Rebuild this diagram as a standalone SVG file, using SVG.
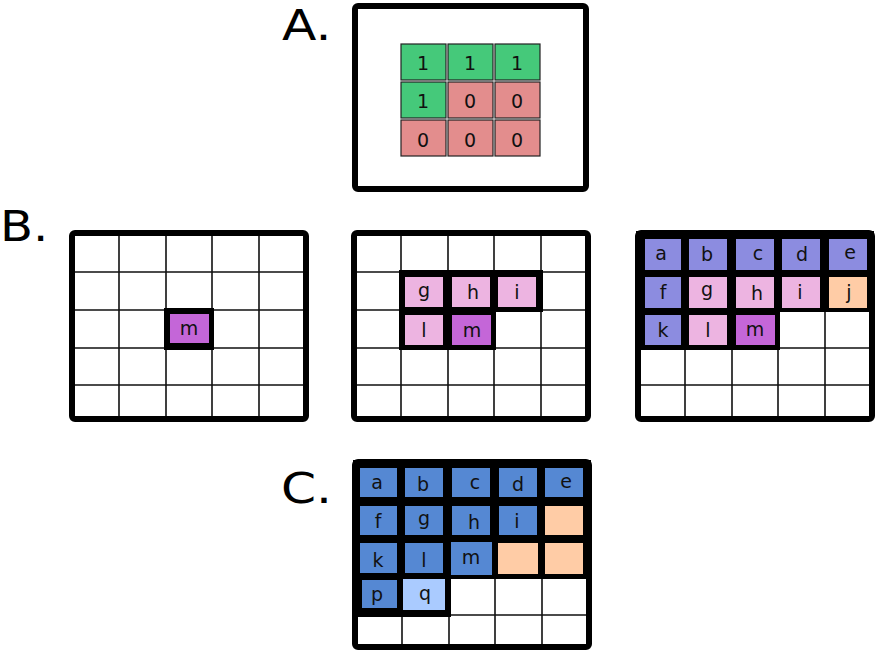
<svg xmlns="http://www.w3.org/2000/svg" width="875" height="652" viewBox="0 0 875 652">
<style>
.bg{fill:#fff}
.frame{fill:none;stroke:#000;stroke-width:6}
.grid{stroke:#111;stroke-width:1.6;fill:none}
.blk{fill:#000;stroke:#000;stroke-width:4;stroke-linejoin:miter}
.t{font-family:"DejaVu Sans","Liberation Sans",sans-serif;font-size:19px;text-anchor:middle;fill:#111}
.lbl{font-family:"DejaVu Sans","Liberation Sans",sans-serif;font-size:43px;fill:#000}
.gr{fill:#45c97a;stroke:#222;stroke-width:1.2}
.rd{fill:#e38d8d;stroke:#222;stroke-width:1.2}
.pu{fill:#c466d8}
.pk{fill:#edb4e1}
.bp{fill:#8c8ce0}
.pe{fill:#ffcca6}
.bl{fill:#5588d3}
.lb{fill:#aacbff}
</style>
<rect width="875" height="652" fill="#fff"/>

<!-- Labels -->
<g id="labels">
<text class="lbl" transform="translate(282,40) scale(1.17,1)">A.</text>
<text class="lbl" transform="translate(0,241) scale(1.12,1)">B.</text>
<text class="lbl" transform="translate(281,503) scale(1.17,1)">C.</text>
</g>

<!-- Panel A -->
<g id="panelA">
<rect class="bg" x="355" y="6" width="231" height="183"/>
<rect class="gr" x="401" y="44" width="45" height="36"/>
<rect class="gr" x="448" y="44" width="45" height="36"/>
<rect class="gr" x="495" y="44" width="45" height="36"/>
<rect class="gr" x="401" y="82" width="45" height="36"/>
<rect class="rd" x="448" y="82" width="45" height="36"/>
<rect class="rd" x="495" y="82" width="45" height="36"/>
<rect class="rd" x="401" y="120" width="45" height="36"/>
<rect class="rd" x="448" y="120" width="45" height="36"/>
<rect class="rd" x="495" y="120" width="45" height="36"/>
<text class="t" x="423" y="70">1</text>
<text class="t" x="470" y="70">1</text>
<text class="t" x="517" y="70">1</text>
<text class="t" x="423" y="108">1</text>
<text class="t" x="470" y="108">0</text>
<text class="t" x="517" y="108">0</text>
<text class="t" x="423" y="147">0</text>
<text class="t" x="470" y="147">0</text>
<text class="t" x="517" y="147">0</text>
<rect class="frame" x="355" y="6" width="231" height="183" rx="3"/>
</g>

<!-- Panel B1 -->
<g id="panelB1">
<rect class="bg" x="72" y="233" width="234" height="186"/>
<path class="grid" d="M119 233V419M166 233V419M212 233V419M259 233V419M72 272H306M72 310H306M72 348H306M72 385H306"/>
<rect class="blk" x="166" y="310" width="46" height="38"/>
<rect class="pu" x="170" y="314" width="39" height="29"/>
<text class="t" x="189" y="335">m</text>
<rect class="frame" x="72" y="233" width="234" height="186" rx="3"/>
</g>

<!-- Panel B2 -->
<g id="panelB2">
<rect class="bg" x="354" y="233" width="234" height="186"/>
<path class="grid" d="M401 233V419M448 233V419M494 233V419M541 233V419M354 272H588M354 310H588M354 348H588M354 385H588"/>
<path class="blk" d="M401 272H541V310H494V348H401Z"/>
<rect class="pk" x="405" y="277" width="38" height="30"/>
<rect class="pk" x="452" y="277" width="38" height="30"/>
<rect class="pk" x="498" y="277" width="38" height="30"/>
<rect class="pk" x="405" y="315" width="38" height="30"/>
<rect class="pu" x="452" y="315" width="39" height="30"/>
<text class="t" x="424" y="297">g</text>
<text class="t" x="473" y="299">h</text>
<text class="t" x="517" y="299">i</text>
<text class="t" x="424" y="337">l</text>
<text class="t" x="472" y="337">m</text>
<rect class="frame" x="354" y="233" width="234" height="186" rx="3"/>
</g>

<!-- Panel B3 -->
<g id="panelB3">
<rect class="bg" x="638" y="233" width="234" height="186"/>
<path class="grid" d="M685 233V419M732 233V419M778 233V419M825 233V419M638 272H872M638 310H872M638 348H872M638 385H872"/>
<path class="blk" d="M638 233H872V310H778V348H638Z"/>
<rect class="bp" x="645" y="239" width="36" height="31"/>
<rect class="bp" x="689" y="239" width="38" height="31"/>
<rect class="bp" x="736" y="239" width="38" height="31"/>
<rect class="bp" x="782" y="239" width="38" height="31"/>
<rect class="bp" x="829" y="239" width="38" height="31"/>
<rect class="bp" x="645" y="277" width="36" height="31"/>
<rect class="pk" x="689" y="277" width="38" height="31"/>
<rect class="pk" x="736" y="277" width="38" height="31"/>
<rect class="pk" x="782" y="277" width="38" height="31"/>
<rect class="pe" x="829" y="277" width="38" height="31"/>
<rect class="bp" x="645" y="315" width="36" height="30"/>
<rect class="pk" x="689" y="315" width="38" height="30"/>
<rect class="pu" x="736" y="315" width="39" height="30"/>
<text class="t" x="661" y="260">a</text>
<text class="t" x="707" y="261">b</text>
<text class="t" x="758" y="260">c</text>
<text class="t" x="802" y="261">d</text>
<text class="t" x="850" y="259">e</text>
<text class="t" x="663" y="299">f</text>
<text class="t" x="707" y="296">g</text>
<text class="t" x="757" y="300">h</text>
<text class="t" x="800" y="299">i</text>
<text class="t" x="849" y="299">j</text>
<text class="t" x="663" y="337">k</text>
<text class="t" x="708" y="337">l</text>
<text class="t" x="755" y="336">m</text>
<rect class="frame" x="638" y="233" width="234" height="186" rx="3"/>
</g>

<!-- Panel C -->
<g id="panelC">
<rect class="bg" x="355" y="462" width="234" height="185"/>
<path class="grid" d="M402 462V647M449 462V647M495 462V647M542 462V647M355 501H589M355 539H589M355 577H589M355 615H589"/>
<path class="blk" d="M355 462H589V577H449V615H355Z"/>
<rect class="bl" x="360" y="468" width="37" height="29"/>
<rect class="bl" x="405" y="468" width="38" height="29"/>
<rect class="bl" x="452" y="468" width="38" height="29"/>
<rect class="bl" x="499" y="468" width="38" height="29"/>
<rect class="bl" x="545" y="468" width="38" height="29"/>
<rect class="bl" x="360" y="506" width="37" height="29"/>
<rect class="bl" x="405" y="506" width="38" height="29"/>
<rect class="bl" x="452" y="506" width="38" height="29"/>
<rect class="bl" x="499" y="506" width="38" height="29"/>
<rect class="pe" x="545" y="506" width="38" height="29"/>
<rect class="bl" x="360" y="543" width="37" height="30"/>
<rect class="bl" x="405" y="543" width="38" height="30"/>
<rect class="bl" x="451" y="542" width="41" height="33"/>
<rect class="pe" x="498" y="543" width="40" height="31"/>
<rect class="pe" x="545" y="543" width="38" height="31"/>
<rect class="bl" x="362" y="580" width="35" height="28"/>
<rect class="lb" x="403" y="579" width="42" height="31"/>
<text class="t" x="377" y="489">a</text>
<text class="t" x="423" y="491">b</text>
<text class="t" x="475" y="489">c</text>
<text class="t" x="518" y="491">d</text>
<text class="t" x="566" y="488">e</text>
<text class="t" x="378" y="528">f</text>
<text class="t" x="424" y="525">g</text>
<text class="t" x="474" y="529">h</text>
<text class="t" x="517" y="528">i</text>
<text class="t" x="378" y="567">k</text>
<text class="t" x="424" y="567">l</text>
<text class="t" x="471" y="564">m</text>
<text class="t" x="377" y="601">p</text>
<text class="t" x="425" y="600">q</text>
<rect class="frame" x="355" y="462" width="234" height="185" rx="3"/>
</g>
</svg>
